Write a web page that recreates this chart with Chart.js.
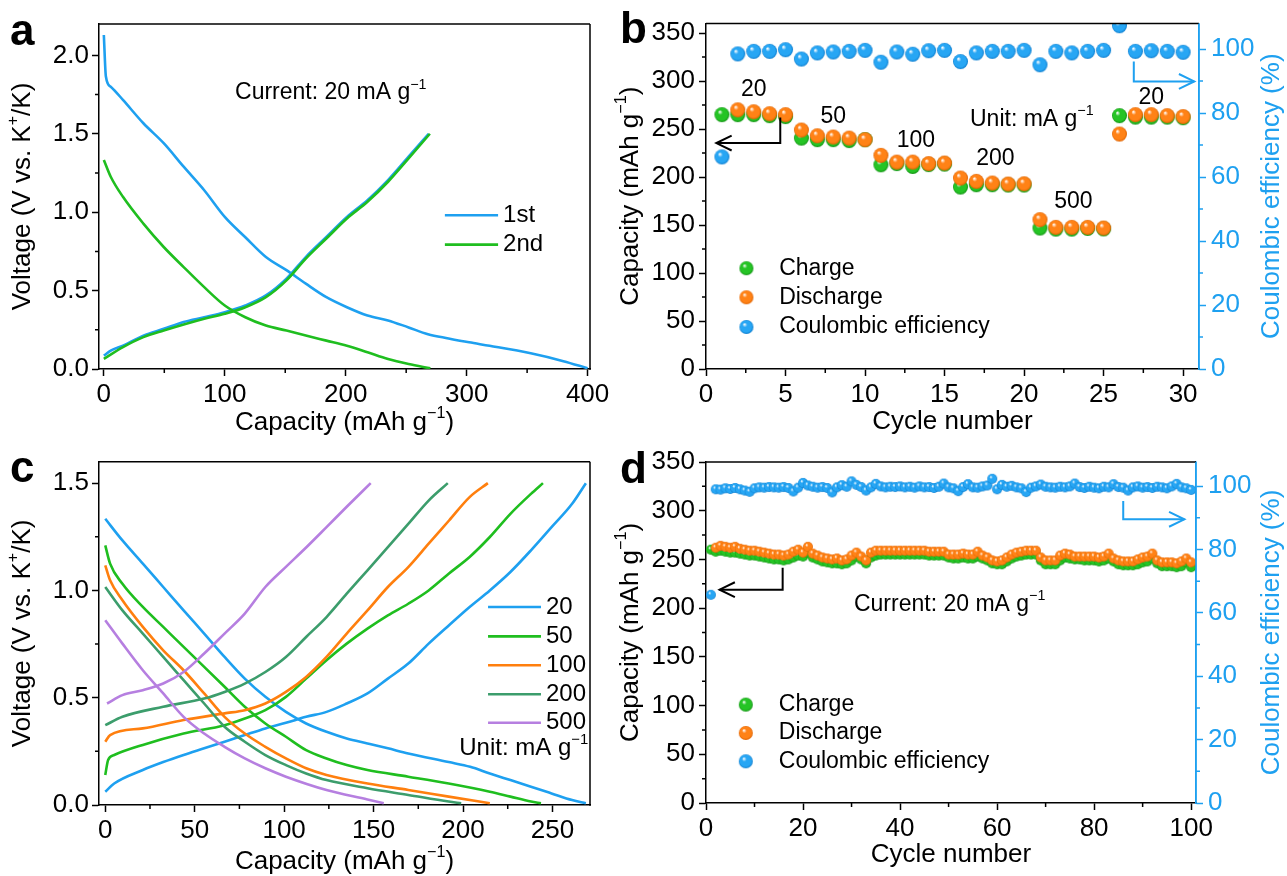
<!DOCTYPE html>
<html>
<head>
<meta charset="utf-8">
<script src="https://cdn.jsdelivr.net/npm/chart.js@4.4.1/dist/chart.umd.min.js"></script>
<style>
  html, body { margin: 0; padding: 0; background: #fff; }
  #wrap { position: relative; width: 1287px; height: 876px; overflow: hidden; }
  #wrap canvas { position: absolute; }
</style>
</head>
<body>
<div id="wrap">
  <canvas id="chartA" width="640" height="440" style="left:0;top:0"></canvas>
  <canvas id="chartB" width="687" height="440" style="left:600px;top:0"></canvas>
  <canvas id="chartC" width="640" height="436" style="left:0;top:440px"></canvas>
  <canvas id="chartD" width="687" height="436" style="left:600px;top:440px"></canvas>
</div>
<script>
// ---- (a) 1st / 2nd cycle at 20 mA/g ----
const a1DisCap = [0, 1.7, 5.7, 15.8, 32.7, 49.5, 66, 83, 100, 117, 134, 151, 167, 184, 201, 218, 235, 252, 268, 285, 302, 319, 353, 380, 400];
const a1DisV   = [2.13, 1.865, 1.80, 1.716, 1.567, 1.44, 1.29, 1.14, 0.97, 0.84, 0.714, 0.63, 0.544, 0.458, 0.394, 0.341, 0.31, 0.265, 0.222, 0.195, 0.17, 0.148, 0.10, 0.05, 0.005];
const a1ChgCap = [0, 5.7, 15.8, 32.7, 49.5, 66, 83, 100, 117, 134, 151, 167, 184, 201, 218, 235, 252, 268.6];
const a1ChgV   = [0.085, 0.117, 0.149, 0.213, 0.256, 0.30, 0.33, 0.362, 0.405, 0.469, 0.576, 0.714, 0.842, 0.97, 1.077, 1.205, 1.354, 1.5];
const a2DisCap = [0, 5.7, 15.8, 32.7, 49.5, 66, 83, 100, 117, 134, 151, 167, 184, 201, 218, 235, 252, 270];
const a2DisV   = [1.333, 1.226, 1.098, 0.927, 0.778, 0.65, 0.522, 0.405, 0.33, 0.277, 0.245, 0.213, 0.181, 0.149, 0.107, 0.064, 0.032, 0.004];
const a2ChgCap = [0, 15.8, 32.7, 49.5, 83, 100, 117, 134, 151, 167, 184, 201, 218, 235, 252, 269.6];
const a2ChgV   = [0.064, 0.139, 0.203, 0.245, 0.32, 0.352, 0.394, 0.458, 0.565, 0.704, 0.832, 0.96, 1.066, 1.194, 1.343, 1.5];
const aCapTicks = [0, 100, 200, 300, 400];
const aVTicks   = [0, 0.5, 1.0, 1.5, 2.0];

// ---- (b) rate test ----
const bCycles    = [1, 2, 3, 4, 5, 6, 7, 8, 9, 10, 11, 12, 13, 14, 15, 16, 17, 18, 19, 20, 21, 22, 23, 24, 25, 26, 27, 28, 29, 30];
const bCharge    = [265, 265, 265, 264, 263, 240.6, 239, 239, 238, 239, 212.8, 214, 211, 213, 213.5, 189.6, 192, 192, 191.7, 191.7, 146.9, 145.8, 145.8, 146.5, 146, 264, 262.5, 262.5, 262.5, 261.8];
const bDischarge = [400, 270, 268, 266, 265, 249, 243, 241.7, 240.6, 239, 222.6, 215.6, 215.6, 214, 214.6, 199, 195.5, 193.8, 192.7, 193, 155.6, 147.6, 147.6, 147.6, 146.9, 244.8, 265, 265, 264, 263];
const bCE        = [66.3, 98.5, 99.3, 99.3, 99.8, 96.9, 98.8, 99.1, 99.3, 99.6, 95.9, 99.1, 98.4, 99.5, 99.6, 96.1, 98.8, 99.3, 99.3, 99.6, 95.1, 99.3, 98.8, 99.3, 99.6, 107.3, 99.3, 99.5, 99.3, 99.0];
const bRates     = ['20', '50', '100', '200', '500', '20'];
const bRateX     = [3.0, 8.0, 13.2, 18.2, 23.1, 28.0];
const bRateY     = [291, 263, 238, 219, 174, 283];
const bCycleTicks = [0, 5, 10, 15, 20, 25, 30];
const capTicks    = [0, 50, 100, 150, 200, 250, 300, 350];
const ceTicks     = [0, 20, 40, 60, 80, 100];

// ---- (c) profiles at different rates ----
const rateLabels = ['20', '50', '100', '200', '500'];
const c20DisCap  = [0, 9.6, 21, 32.4, 43.8, 55.3, 66.7, 78, 89.5, 101, 112.3, 123.7, 135, 146.6, 158, 169.4, 192, 204, 215, 226.5, 238, 249.5, 261, 268.7];
const c20DisV    = [1.334, 1.233, 1.125, 1.016, 0.907, 0.799, 0.69, 0.589, 0.504, 0.434, 0.38, 0.341, 0.31, 0.287, 0.264, 0.24, 0.2, 0.178, 0.147, 0.116, 0.085, 0.054, 0.023, 0.008];
const c20ChgCap  = [0, 5, 21, 32.4, 43.8, 55.3, 66.7, 78, 89.5, 101, 112.3, 123.7, 135, 146.6, 158, 169.4, 180.8, 192.2, 203.7, 215, 226.5, 238, 249.5, 261, 268.7];
const c20ChgV    = [0.062, 0.1, 0.163, 0.2, 0.233, 0.264, 0.295, 0.326, 0.357, 0.383, 0.411, 0.434, 0.473, 0.52, 0.589, 0.659, 0.752, 0.838, 0.923, 1.0, 1.086, 1.187, 1.295, 1.404, 1.5];
const c50DisCap  = [0, 2.7, 9.6, 21, 32.4, 43.8, 55.3, 66.7, 78, 89.5, 101, 112.3, 123.7, 135, 146.6, 169.4, 192, 215, 226.5, 238, 243.6];
const c50DisV    = [1.21, 1.125, 1.031, 0.923, 0.83, 0.737, 0.644, 0.551, 0.458, 0.38, 0.318, 0.256, 0.217, 0.186, 0.163, 0.132, 0.1, 0.062, 0.039, 0.016, 0.008];
const c50ChgCap  = [0, 1.6, 5, 21, 43.8, 66.7, 78, 89.5, 101, 112.3, 123.7, 135, 146.6, 158, 169.4, 180.8, 192, 203.7, 215, 226.5, 238, 244.7];
const c50ChgV    = [0.14, 0.21, 0.233, 0.28, 0.333, 0.372, 0.403, 0.442, 0.504, 0.589, 0.675, 0.752, 0.822, 0.884, 0.938, 1.0, 1.078, 1.156, 1.249, 1.357, 1.45, 1.5];
const c100DisCap = [0, 2.7, 9.6, 21, 32.4, 43.8, 55.3, 66.7, 78, 89.5, 101, 112.3, 123.7, 146.6, 169.4, 192, 215];
const c100DisV   = [1.117, 1.047, 0.954, 0.83, 0.721, 0.628, 0.52, 0.411, 0.333, 0.271, 0.217, 0.171, 0.14, 0.1, 0.07, 0.039, 0.008];
const c100ChgCap = [0, 2.7, 21, 43.8, 66.7, 78, 89.5, 101, 112.3, 123.7, 135, 146.6, 158, 169.4, 180.8, 192.2, 203.7, 213.9];
const c100ChgV   = [0.295, 0.326, 0.357, 0.396, 0.427, 0.442, 0.473, 0.527, 0.597, 0.69, 0.799, 0.907, 1.016, 1.109, 1.218, 1.326, 1.435, 1.5];
const c200DisCap = [0, 9.6, 21, 32.4, 43.8, 55.3, 66.7, 78, 89.5, 101, 112.3, 123.7, 146.6, 169.4, 192, 199];
const c200DisV   = [1.016, 0.907, 0.799, 0.69, 0.582, 0.473, 0.365, 0.295, 0.233, 0.186, 0.147, 0.116, 0.078, 0.047, 0.016, 0.008];
const c200ChgCap = [0, 9.6, 32.4, 55.3, 66.7, 78, 89.5, 101, 112.3, 123.7, 135, 146.6, 158, 169.4, 180.8, 191.5];
const c200ChgV   = [0.372, 0.411, 0.458, 0.496, 0.527, 0.566, 0.62, 0.69, 0.783, 0.876, 0.985, 1.094, 1.202, 1.31, 1.419, 1.5];
const c500DisCap = [0, 9.6, 21, 32.4, 43.8, 55.3, 66.7, 78, 89.5, 101, 123.7, 146.6, 155.7];
const c500DisV   = [0.861, 0.752, 0.628, 0.52, 0.411, 0.333, 0.271, 0.217, 0.171, 0.132, 0.07, 0.026, 0.008];
const c500ChgCap = [1, 9.6, 21, 32.4, 43.8, 55.3, 66.7, 78, 89.5, 101, 112.3, 123.7, 135, 148.4];
const c500ChgV   = [0.473, 0.512, 0.535, 0.566, 0.62, 0.706, 0.799, 0.892, 1.016, 1.11, 1.2, 1.295, 1.39, 1.5];
const cCapTicks  = [0, 50, 100, 150, 200, 250];
const cVTicks    = [0, 0.5, 1.0, 1.5];

// ---- (d) 100 cycles at 20 mA/g ----
const dCycles = [1, 2, 3, 4, 5, 6, 7, 8, 9, 10, 11, 12, 13, 14, 15, 16, 17, 18, 19, 20,
  21, 22, 23, 24, 25, 26, 27, 28, 29, 30, 31, 32, 33, 34, 35, 36, 37, 38, 39, 40,
  41, 42, 43, 44, 45, 46, 47, 48, 49, 50, 51, 52, 53, 54, 55, 56, 57, 58, 59, 60,
  61, 62, 63, 64, 65, 66, 67, 68, 69, 70, 71, 72, 73, 74, 75, 76, 77, 78, 79, 80,
  81, 82, 83, 84, 85, 86, 87, 88, 89, 90, 91, 92, 93, 94, 95, 96, 97, 98, 99, 100];
const dDischarge = [396, 262, 264, 263, 262, 263, 261, 260, 259, 259,
  258, 257, 256, 255, 255, 254, 255, 258, 260, 257,
  263, 256, 254, 252, 251, 250, 251, 249, 250, 254,
  257, 253, 249, 257, 259, 259, 259, 259, 259, 259,
  259, 259, 259, 259, 259, 258, 258, 258, 258, 255,
  255, 255, 256, 255, 255, 258, 254, 252, 249, 248,
  249, 252, 255, 257, 258, 259, 259, 259, 252, 249,
  249, 249, 254, 256, 255, 253, 253, 253, 253, 253,
  252, 253, 256, 251, 249, 248, 248, 248, 250, 252,
  253, 256, 249, 247, 247, 247, 246, 248, 251, 247];
const dCharge = [260, 258, 259, 258, 257, 257, 256, 255, 254, 254,
  253, 252, 251, 250, 250, 249, 250, 252, 254, 253,
  257, 252, 250, 248, 247, 246, 246, 245, 246, 249,
  253, 250, 246, 252, 254, 255, 255, 255, 255, 255,
  255, 255, 255, 255, 255, 254, 254, 254, 254, 252,
  251, 251, 252, 251, 251, 253, 251, 249, 246, 245,
  245, 248, 251, 253, 254, 255, 255, 255, 249, 245,
  245, 245, 249, 252, 251, 250, 250, 249, 249, 249,
  248, 249, 251, 248, 245, 244, 244, 244, 245, 247,
  248, 251, 246, 243, 243, 243, 242, 243, 247, 242];
const dCE = [65.7, 99.0, 98.9, 99.3, 99.1, 99.4, 99.0, 98.6, 98.2, 99.3,
  99.6, 99.5, 99.7, 99.6, 99.5, 99.7, 99.4, 98.3, 99.5, 101.0,
  100.2, 99.8, 99.5, 99.7, 99.4, 98.0, 99.6, 100.3, 99.8, 101.5,
  100.4, 99.7, 98.6, 99.6, 100.7, 99.9, 99.6, 99.8, 99.7, 99.9,
  99.6, 99.8, 99.5, 99.9, 99.6, 99.7, 99.4, 99.8, 100.8, 99.6,
  99.3, 98.4, 99.7, 100.6, 99.6, 99.5, 99.9, 100.2, 102.3, 99.0,
  100.4, 99.8, 100.1, 99.6, 99.3, 98.1, 99.5, 99.9, 100.5, 99.8,
  99.6, 99.5, 99.8, 99.6, 99.9, 100.8, 99.7, 99.4, 99.8, 99.5,
  99.3, 99.8, 99.6, 100.6, 99.7, 99.5, 98.6, 99.6, 99.9, 99.5,
  99.7, 99.4, 99.8, 99.6, 99.3, 99.9, 100.7, 99.6, 99.3, 98.8];
const dCycleTicks = [0, 20, 40, 60, 80, 100];

const seriesNames = ['Charge', 'Discharge', 'Coulombic efficiency'];

const FONT = '"Liberation Sans", Arial, Helvetica, sans-serif';
const BLUE = '#1ea0f0', GREEN = '#1fbe1f', ORANGE = '#ff7f0e', TEAL = '#3c9d6c', PURPLE = '#b67fe0';
const TICK = 26, TITLE = 26;

Chart.defaults.font.family = FONT;
Chart.defaults.color = '#000';

const xy = (xs, ys) => xs.map((x, i) => ({ x, y: ys[i] }));

// glossy sphere used as point marker
function ball(color, dark, d) {
  const c = document.createElement('canvas');
  c.width = c.height = d + 2;
  const g = c.getContext('2d');
  const r = d / 2, m = (d + 2) / 2;
  const grd = g.createRadialGradient(m - r * 0.3, m - r * 0.4, r * 0.04, m, m, r);
  grd.addColorStop(0, '#ffffff');
  grd.addColorStop(0.3, color);
  grd.addColorStop(0.8, color);
  grd.addColorStop(1, dark);
  g.fillStyle = grd;
  g.beginPath(); g.arc(m, m, r, 0, Math.PI * 2); g.fill();
  return c;
}
const balls = (d) => [ball('#25c425', '#129012', d), ball('#ff8216', '#dd6200', d), ball('#27a6f4', '#0c7bcc', d)];

// text with superscripts: pieces starting with '^' are raised
function rich(ctx, parts, x, y, size, align, color, bold) {
  const segs = parts.map(p => {
    const sup = p.startsWith('^');
    const t = sup ? p.slice(1) : p;
    const fs = sup ? size * 0.62 : size;
    ctx.font = (bold ? 'bold ' : '') + fs + 'px ' + FONT;
    return { t, fs, sup, w: ctx.measureText(t).width };
  });
  const total = segs.reduce((s, g) => s + g.w, 0);
  let cx = align === 'center' ? x - total / 2 : align === 'right' ? x - total : x;
  ctx.textAlign = 'left';
  ctx.textBaseline = 'middle';
  ctx.fillStyle = color || '#000';
  segs.forEach(s => {
    ctx.font = (bold ? 'bold ' : '') + s.fs + 'px ' + FONT;
    ctx.fillText(s.t, cx, s.sup ? y - size * 0.36 : y);
    cx += s.w;
  });
}

function minorTicks(ctx, scale, step, color, side, ca) {
  if (!scale || !step) return;
  const len = 4;
  ctx.strokeStyle = color;
  ctx.lineWidth = 1.5;
  ctx.beginPath();
  for (let k = Math.ceil(scale.min / step); k <= Math.floor(scale.max / step + 1e-9); k++) {
    if (k % 2 === 0) continue;
    const p = scale.getPixelForValue(k * step);
    if (side === 'bottom') { ctx.moveTo(p, ca.bottom); ctx.lineTo(p, ca.bottom + len); }
    if (side === 'left') { ctx.moveTo(ca.left, p); ctx.lineTo(ca.left - len, p); }
    if (side === 'right') { ctx.moveTo(ca.right, p); ctx.lineTo(ca.right + len, p); }
  }
  ctx.stroke();
}

function arrow(ctx, pts, color) {
  ctx.strokeStyle = color;
  ctx.lineWidth = 2;
  ctx.beginPath();
  pts.forEach((p, i) => i ? ctx.lineTo(p[0], p[1]) : ctx.moveTo(p[0], p[1]));
  ctx.stroke();
  const [x1, y1] = pts[pts.length - 2], [x2, y2] = pts[pts.length - 1];
  const a = Math.atan2(y2 - y1, x2 - x1), L = 17, W = 0.45;
  ctx.beginPath();
  ctx.moveTo(x2 - L * Math.cos(a - W), y2 - L * Math.sin(a - W));
  ctx.lineTo(x2, y2);
  ctx.lineTo(x2 - L * Math.cos(a + W), y2 - L * Math.sin(a + W));
  ctx.stroke();
}

// frame, minor ticks, titles, labels, legends and arrows
const deco = {
  id: 'deco',
  afterDraw(chart, _args, o) {
    const ctx = chart.ctx, ca = chart.chartArea;
    const sx = chart.scales.x, sy = chart.scales.y, sy2 = chart.scales.y2;
    const px = v => sx.getPixelForValue(v);
    const py = (v, ax) => (ax === 'y2' ? sy2 : sy).getPixelForValue(v);
    ctx.save();
    minorTicks(ctx, sx, o.xMinor, '#000', 'bottom', ca);
    minorTicks(ctx, sy, o.yMinor, '#000', 'left', ca);
    minorTicks(ctx, sy2, o.y2Minor, BLUE, 'right', ca);

    ctx.lineWidth = 1.5;
    ctx.strokeStyle = '#000';
    ctx.beginPath(); ctx.moveTo(ca.left, ca.top); ctx.lineTo(ca.right, ca.top); ctx.stroke();
    ctx.strokeStyle = sy2 ? BLUE : '#000';
    ctx.beginPath(); ctx.moveTo(ca.right, ca.top); ctx.lineTo(ca.right, ca.bottom + 0.75); ctx.stroke();

    // axis titles
    rich(ctx, o.xTitle, (ca.left + ca.right) / 2, o.xTitleY, TITLE, 'center', '#000');
    ctx.save(); ctx.translate(o.yTitleX, (ca.top + ca.bottom) / 2); ctx.rotate(-Math.PI / 2);
    rich(ctx, o.yTitle, 0, 0, TITLE, 'center', '#000'); ctx.restore();
    if (o.y2Title) {
      ctx.save(); ctx.translate(o.y2TitleX, (ca.top + ca.bottom) / 2); ctx.rotate(-Math.PI / 2);
      rich(ctx, o.y2Title, 0, 0, TITLE, 'center', BLUE); ctx.restore();
    }
    // panel letter
    ctx.font = 'bold 44px ' + FONT;
    ctx.textAlign = 'left'; ctx.textBaseline = 'alphabetic'; ctx.fillStyle = '#000';
    ctx.fillText(o.letter[0], o.letter[1], o.letter[2]);

    (o.texts || []).forEach(t => rich(ctx, t.parts, px(t.x), py(t.y, t.axis), t.size || 23, t.align || 'left', t.color));
    (o.lines || []).forEach(l => {
      ctx.strokeStyle = l.color; ctx.lineWidth = 2.6;
      ctx.beginPath(); ctx.moveTo(px(l.x1), py(l.y)); ctx.lineTo(px(l.x2), py(l.y)); ctx.stroke();
      rich(ctx, [l.label], px(l.x2) + 5, py(l.y), 24, 'left', '#000');
    });
    (o.marks || []).forEach(m => {
      const x = px(m.x), y = py(m.y);
      ctx.drawImage(m.img, x - m.img.width / 2, y - m.img.height / 2);
      rich(ctx, [m.label], px(m.tx), y, 23, 'left', '#000');
    });
    (o.arrows || []).forEach(a => arrow(ctx, a.pts.map(p => [px(p[0]), py(p[1], a.axis)]), a.color));
    ctx.restore();
  }
};

const fixTicks = values => s => { s.ticks = values.map(value => ({ value })); };

function xAxis(min, max, values, height, dec) {
  return {
    type: 'linear', position: 'bottom', min, max,
    afterBuildTicks: fixTicks(values),
    afterFit: s => { s.height = height; },
    ticks: { autoSkip: false, maxRotation: 0, padding: 3,
      font: { size: TICK }, color: '#000', callback: v => dec ? v.toFixed(dec) : String(v) },
    grid: { drawOnChartArea: false, tickLength: 7, tickWidth: 1.5, tickColor: '#000' },
    border: { color: '#000', width: 1.5 }
  };
}
function yAxis(min, max, values, width, dec, pad) {
  return {
    type: 'linear', position: 'left', min, max,
    afterBuildTicks: fixTicks(values),
    afterFit: s => { s.width = width; },
    ticks: { autoSkip: false, padding: pad,
      font: { size: TICK }, color: '#000', callback: v => dec ? v.toFixed(dec) : String(v) },
    grid: { drawOnChartArea: false, tickLength: 7, tickWidth: 1.5, tickColor: '#000' },
    border: { color: '#000', width: 1.5 }
  };
}
function y2Axis(max, width) {
  return {
    type: 'linear', position: 'right', min: 0, max,
    afterBuildTicks: fixTicks(ceTicks),
    afterFit: s => { s.width = width; },
    ticks: { autoSkip: false, padding: 5, font: { size: TICK }, color: BLUE },
    grid: { drawOnChartArea: false, tickLength: 7, tickWidth: 1.5, tickColor: BLUE },
    border: { color: BLUE, width: 1.5 }
  };
}
function curve(xs, ys, color) {
  return { data: xy(xs, ys), showLine: true, borderColor: color, borderWidth: 2.6, pointRadius: 0,
    cubicInterpolationMode: 'monotone', fill: false };
}
function dots(xs, ys, img, axis, order, r) {
  return { data: xy(xs, ys), yAxisID: axis, pointStyle: img, pointRadius: r, order, showLine: false };
}
const base = (pad, scales, deco) => ({
  responsive: false, animation: false, devicePixelRatio: 1, events: [],
  layout: { padding: pad },
  plugins: { legend: { display: false }, tooltip: { enabled: false }, deco },
  scales
});

// (a)
new Chart(document.getElementById('chartA'), {
  type: 'scatter',
  data: { datasets: [
    curve(a2DisCap, a2DisV, GREEN), curve(a2ChgCap, a2ChgV, GREEN),
    curve(a1DisCap, a1DisV, BLUE), curve(a1ChgCap, a1ChgV, BLUE)
  ] },
  options: base({ top: 24, right: 50, left: 0, bottom: 0 },
    { x: xAxis(-4, 402, aCapTicks, 71), y: yAxis(0, 2.2, aVTicks, 99, 1, 3) },
    { letter: ['a', 10, 45], xMinor: 50, yMinor: 0.25,
      xTitle: ['Capacity (mAh g', '^−1', ')'], xTitleY: 423,
      yTitle: ['Voltage (V vs. K', '^+', '/K)'], yTitleX: 23,
      texts: [{ x: 108.5, y: 1.76, parts: ['Current: 20 mA g', '^−1'] }],
      lines: [{ x1: 282, x2: 326, y: 0.98, color: BLUE, label: '1st' },
              { x1: 282, x2: 326, y: 0.793, color: GREEN, label: '2nd' }] }),
  plugins: [deco]
});

// (b)
const bBalls = balls(15), bLeg = balls(14);
new Chart(document.getElementById('chartB'), {
  type: 'scatter',
  data: { datasets: [
    dots(bCycles, bCharge, bBalls[0], 'y', 3, 7),
    dots(bCycles, bDischarge, bBalls[1], 'y', 2, 7),
    dots(bCycles, bCE, bBalls[2], 'y2', 1, 7)
  ] },
  options: base({ top: 23.5, right: 0, left: 0, bottom: 0 },
    { x: xAxis(0, 31, bCycleTicks, 71), y: yAxis(0, 360, capTicks, 106, 0, 4), y2: y2Axis(108, 88) },
    { letter: ['b', 20, 43], xMinor: 2.5, yMinor: 25, y2Minor: 10,
      xTitle: ['Cycle number'], xTitleY: 422,
      yTitle: ['Capacity (mAh g', '^−1', ')'], yTitleX: 31,
      y2Title: ['Coulombic efficiency (%)'], y2TitleX: 672,
      texts: bRates.map((t, i) => ({ x: bRateX[i], y: bRateY[i], parts: [t], align: 'center' }))
        .concat([{ x: 16.6, y: 260, parts: ['Unit: mA g', '^−1'] }]),
      marks: seriesNames.map((n, i) => ({ x: 2.54, tx: 4.6, y: [105, 74.7, 43.8][i], img: bLeg[i], label: n })),
      arrows: [{ pts: [[4.67, 262], [4.67, 235.4], [0.65, 235.4]], color: '#000' },
               { pts: [[26.9, 96.1], [26.9, 89.9], [30.7, 89.9]], axis: 'y2', color: BLUE }] }),
  plugins: [deco]
});

// (c)
const cColors = [BLUE, GREEN, ORANGE, TEAL, PURPLE];
const cLegY = [0.923, 0.786, 0.651, 0.516, 0.383];
new Chart(document.getElementById('chartC'), {
  type: 'scatter',
  data: { datasets: [
    curve(c500DisCap, c500DisV, PURPLE), curve(c500ChgCap, c500ChgV, PURPLE),
    curve(c200DisCap, c200DisV, TEAL), curve(c200ChgCap, c200ChgV, TEAL),
    curve(c100DisCap, c100DisV, ORANGE), curve(c100ChgCap, c100ChgV, ORANGE),
    curve(c50DisCap, c50DisV, GREEN), curve(c50ChgCap, c50ChgV, GREEN),
    curve(c20DisCap, c20DisV, BLUE), curve(c20ChgCap, c20ChgV, BLUE)
  ] },
  options: base({ top: 21.7, right: 50, left: 0, bottom: 0 },
    { x: xAxis(-3.5, 271, cCapTicks, 71), y: yAxis(0, 1.6, cVTicks, 99, 1, 3) },
    { letter: ['c', 10, 42], xMinor: 25, yMinor: 0.25,
      xTitle: ['Capacity (mAh g', '^−1', ')'], xTitleY: 422,
      yTitle: ['Voltage (V vs. K', '^+', '/K)'], yTitleX: 23,
      texts: [{ x: 270, y: 0.264, parts: ['Unit: mA g', '^−1'], align: 'right', size: 24 }],
      lines: rateLabels.map((t, i) => ({ x1: 214, x2: 243.6, y: cLegY[i], color: cColors[i], label: t })) }),
  plugins: [deco]
});

// (d)
const dBalls = balls(10), dLeg = balls(14);
new Chart(document.getElementById('chartD'), {
  type: 'scatter',
  data: { datasets: [
    dots(dCycles, dCharge, dBalls[0], 'y', 3, 5),
    dots(dCycles, dDischarge, dBalls[1], 'y', 2, 5),
    dots(dCycles, dCE, dBalls[2], 'y2', 1, 5)
  ] },
  options: base({ top: 22, right: 0, left: 0, bottom: 0 },
    { x: xAxis(0, 101, dCycleTicks, 73), y: yAxis(0, 350, capTicks, 106, 0, 4), y2: y2Axis(107.6, 91) },
    { letter: ['d', 20, 43], xMinor: 10, yMinor: 25, y2Minor: 10,
      xTitle: ['Cycle number'], xTitleY: 415,
      yTitle: ['Capacity (mAh g', '^−1', ')'], yTitleX: 31,
      y2Title: ['Coulombic efficiency (%)'], y2TitleX: 672,
      texts: [{ x: 30.5, y: 204, parts: ['Current: 20 mA g', '^−1'] }],
      marks: seriesNames.map((n, i) => ({ x: 8.2, tx: 15, y: [101, 71.9, 42.8][i], img: dLeg[i], label: n })),
      arrows: [{ pts: [[15.8, 241.4], [15.8, 219], [2.8, 219]], color: '#000' },
               { pts: [[86, 95.3], [86, 89.5], [98.6, 89.5]], axis: 'y2', color: BLUE }] }),
  plugins: [deco]
});
</script>
</body>
</html>
